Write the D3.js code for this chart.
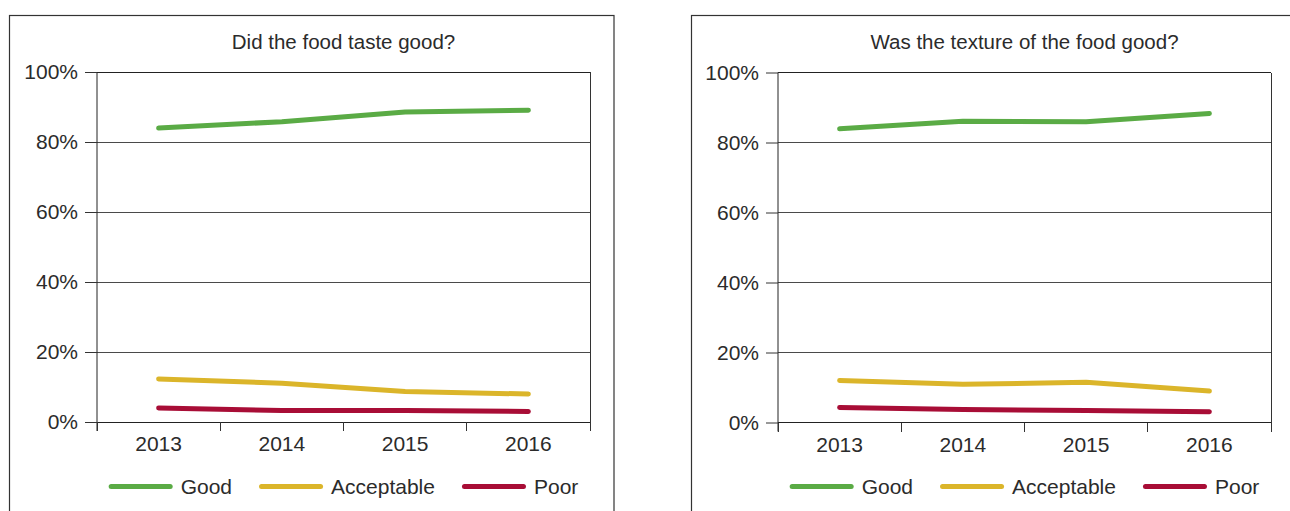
<!DOCTYPE html>
<html>
<head>
<meta charset="utf-8">
<script src="https://cdn.jsdelivr.net/npm/d3@7"></script>
<style>
  html, body { margin: 0; padding: 0; background: #fff; }
  svg { display: block; }
  text { font-family: "Liberation Sans", Arial, Helvetica, sans-serif; fill: #2b2b2b; }
</style>
</head>
<body>
<svg id="chart" width="1290" height="511"></svg>
<script>
// Survey years and answer categories
const years = ["2013", "2014", "2015", "2016"];
const seriesNames = ["Good", "Acceptable", "Poor"];
const seriesColors = ["#5aab45", "#dbb52a", "#a80d36"];
const yTicks = [0, 20, 40, 60, 80, 100];

// "Did the food taste good?" (% of respondents)
const tasteGood = [84.0, 85.8, 88.6, 89.1];
const tasteAcceptable = [12.3, 11.1, 8.7, 8.0];
const tastePoor = [4.0, 3.3, 3.3, 3.0];

// "Was the texture of the food good?" (% of respondents)
const textureGood = [83.9, 86.1, 85.9, 88.3];
const textureAcceptable = [12.0, 10.9, 11.5, 9.0];
const texturePoor = [4.3, 3.7, 3.4, 3.1];

const panels = [
  {
    title: "Did the food taste good?",
    series: [tasteGood, tasteAcceptable, tastePoor],
    frame: { x: 9.5, y: 15.5, w: 604.5 },
    plot: { left: 97, right: 590, top: 72, bottom: 422 }
  },
  {
    title: "Was the texture of the food good?",
    series: [textureGood, textureAcceptable, texturePoor],
    frame: { x: 691.5, y: 15.5, w: 620 },
    plot: { left: 778, right: 1271, top: 72.5, bottom: 422.5 }
  }
];

const svg = d3.select("#chart");
const FONT = 21;

panels.forEach(p => {
  const g = svg.append("g");

  // outer frame (runs off the bottom edge)
  g.append("rect")
    .attr("x", p.frame.x).attr("y", p.frame.y)
    .attr("width", p.frame.w).attr("height", 600)
    .attr("fill", "none").attr("stroke", "#333").attr("stroke-width", 1.2);

  const x = d3.scaleBand().domain(years).range([p.plot.left, p.plot.right]);
  const y = d3.scaleLinear().domain([0, 100]).range([p.plot.bottom, p.plot.top]);
  const cx = (p.plot.left + p.plot.right) / 2;

  // title
  g.append("text")
    .attr("x", cx).attr("y", 49)
    .attr("text-anchor", "middle")
    .style("font-size", "20.5px")
    .text(p.title);

  // horizontal gridlines
  g.append("g").selectAll("line").data(yTicks).join("line")
    .attr("x1", p.plot.left).attr("x2", p.plot.right)
    .attr("y1", d => y(d)).attr("y2", d => y(d))
    .attr("stroke", d => d === 0 || d === 100 ? "#222" : "#4a4a4a")
    .attr("stroke-width", 1)
    .attr("shape-rendering", "crispEdges");

  // right border of plot area
  g.append("line")
    .attr("x1", p.plot.right).attr("x2", p.plot.right)
    .attr("y1", y(100)).attr("y2", y(0) + 9)
    .attr("stroke", "#333").attr("shape-rendering", "crispEdges");

  // y axis
  const yAxis = g.append("g")
    .attr("transform", `translate(${p.plot.left},0)`)
    .call(d3.axisLeft(y).tickValues(yTicks).tickFormat(d => d + "%").tickSize(12).tickPadding(7));
  yAxis.select(".domain").attr("stroke", "#222").attr("d", `M0,${y(100)}V${y(0) + 9}`);
  yAxis.selectAll(".tick line").attr("stroke", "#333");
  yAxis.selectAll(".tick text").style("font-size", FONT + "px").attr("fill", "#2b2b2b")
    .attr("font-family", null);

  // x axis: tick marks on category boundaries, labels centred in each band
  const bounds = years.map(d => x(d)).concat([x.range()[1]]);
  g.append("g").selectAll("line").data(bounds).join("line")
    .attr("x1", d => d).attr("x2", d => d)
    .attr("y1", y(0)).attr("y2", y(0) + 9)
    .attr("stroke", "#333").attr("shape-rendering", "crispEdges");
  g.append("g").selectAll("text").data(years).join("text")
    .attr("x", d => x(d) + x.bandwidth() / 2)
    .attr("y", y(0) + 29)
    .attr("text-anchor", "middle")
    .style("font-size", FONT + "px")
    .text(d => d);

  // series lines
  const line = d3.line()
    .x((v, i) => x(years[i]) + x.bandwidth() / 2)
    .y(v => y(v));
  g.append("g").selectAll("path").data(p.series).join("path")
    .attr("d", d => line(d))
    .attr("fill", "none")
    .attr("stroke", (d, i) => seriesColors[i])
    .attr("stroke-width", 5)
    .attr("stroke-linecap", "round")
    .attr("stroke-linejoin", "round");

  // legend, centred under the plot
  const legY = 486.5;
  const sw = 59, gapText = 10.5, gapItem = 27;
  const leg = g.append("g");
  const items = leg.selectAll("g").data(seriesNames).join("g");
  items.append("line")
    .attr("x1", 2.5).attr("x2", 2.5 + sw)
    .attr("y1", legY).attr("y2", legY)
    .attr("stroke", (d, i) => seriesColors[i])
    .attr("stroke-width", 5).attr("stroke-linecap", "round");
  items.append("text")
    .attr("x", 2.5 + sw + gapText)
    .attr("y", legY + 7)
    .style("font-size", FONT + "px")
    .text(d => d);
  const widths = [];
  items.each(function () {
    const tw = d3.select(this).select("text").node().getComputedTextLength();
    widths.push(2.5 + sw + gapText + tw);
  });
  const total = d3.sum(widths) + gapItem * (widths.length - 1);
  let start = cx - total / 2;
  items.attr("transform", (d, i) => {
    const t = `translate(${start},0)`;
    start += widths[i] + gapItem;
    return t;
  });
});
</script>
</body>
</html>
